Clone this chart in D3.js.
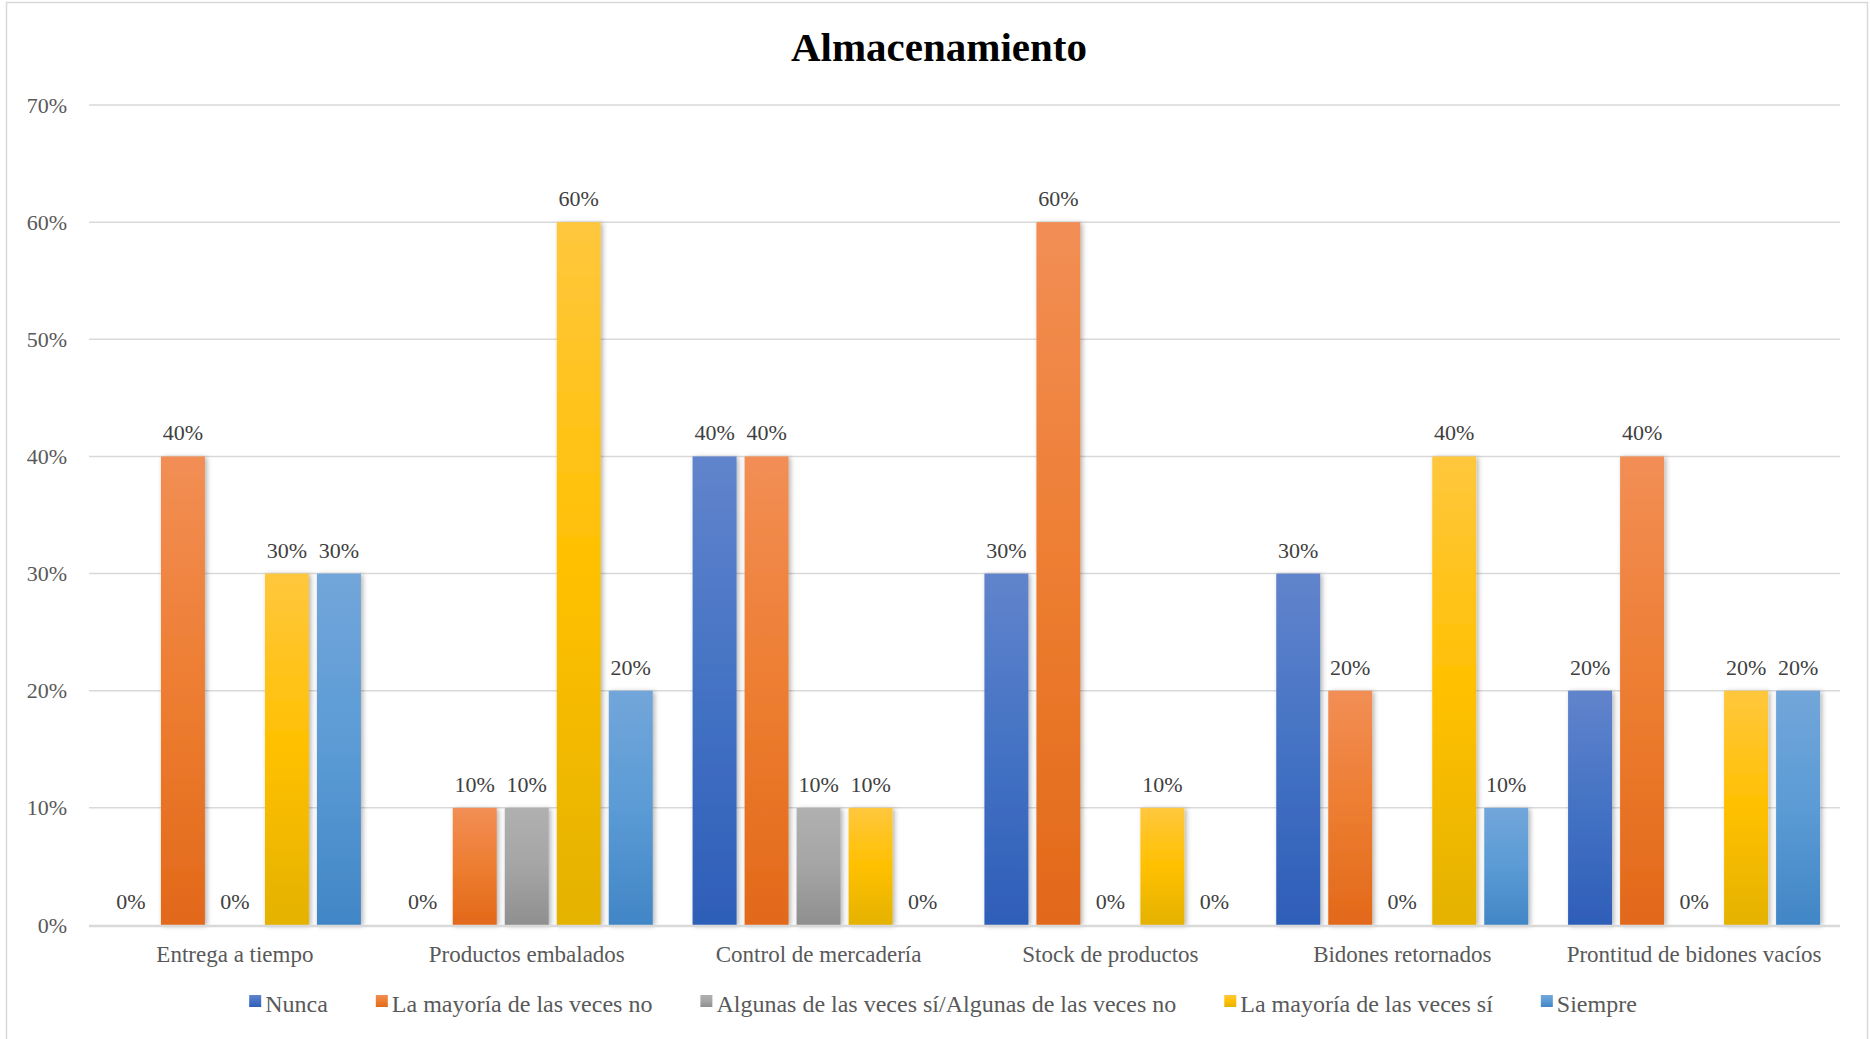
<!DOCTYPE html>
<html>
<head>
<meta charset="utf-8">
<script src="https://cdn.jsdelivr.net/npm/d3@7"></script>
<style>
  body { margin: 0; background: #fff; }
  svg text { font-family: "Liberation Serif", "Times New Roman", serif; }
</style>
</head>
<body>
<div id="chart"></div>
<script>
var categories = ["Entrega a tiempo", "Productos embalados", "Control de mercadería",
                  "Stock de productos", "Bidones retornados", "Prontitud de bidones vacíos"];
var seriesNames = ["Nunca", "La mayoría de las veces no",
                   "Algunas de las veces sí/Algunas de las veces no",
                   "La mayoría de las veces sí", "Siempre"];
var nunca      = [0, 0, 40, 30, 30, 20];
var mayoriaNo  = [40, 10, 40, 60, 20, 40];
var algunas    = [0, 10, 10, 0, 0, 0];
var mayoriaSi  = [30, 60, 10, 10, 40, 20];
var siempre    = [30, 20, 0, 0, 10, 20];
var yTicks = [0, 10, 20, 30, 40, 50, 60, 70];

var seriesValues = [nunca, mayoriaNo, algunas, mayoriaSi, siempre];
// gradient stops per series: top, middle, bottom
var seriesColors = [
  ["#6184cc", "#4472c4", "#2e5eb8"],
  ["#f28e55", "#ed7d31", "#e2691a"],
  ["#b0b0b0", "#a5a5a5", "#8f8f8f"],
  ["#ffc73d", "#ffc000", "#e4b200"],
  ["#72a6da", "#5b9bd5", "#4186c6"]
];
var serif = "Liberation Serif, Times New Roman, serif";

var w = 1870, h = 1039;
var plot = {left: 89, right: 1840, top: 105, bottom: 925};

var svg = d3.select("#chart").append("svg")
            .attr("width", w)
            .attr("height", h);

var defs = svg.append("defs");
seriesColors.forEach(function(c, i) {
  var g = defs.append("linearGradient")
              .attr("id", "grad" + i)
              .attr("x1", 0).attr("y1", 0).attr("x2", 0).attr("y2", 1);
  g.append("stop").attr("offset", "0%").attr("stop-color", c[0]);
  g.append("stop").attr("offset", "50%").attr("stop-color", c[1]);
  g.append("stop").attr("offset", "100%").attr("stop-color", c[2]);
});
var shadow = defs.append("filter").attr("id", "shadow")
                 .attr("x", "-20%").attr("y", "-5%").attr("width", "150%").attr("height", "115%");
shadow.append("feDropShadow")
      .attr("dx", 2).attr("dy", 1).attr("stdDeviation", 2.5)
      .attr("flood-color", "#000").attr("flood-opacity", 0.3);

// chart border
svg.append("rect")
   .attr("x", 6.5).attr("y", 2.5)
   .attr("width", 1861).attr("height", 1050)
   .attr("fill", "none")
   .attr("stroke", "#d9d9d9")
   .attr("stroke-width", 1.5);

// title
svg.append("text")
   .attr("x", 939)
   .attr("y", 61)
   .attr("text-anchor", "middle")
   .attr("font-family", serif)
   .attr("font-size", 41)
   .attr("font-weight", "bold")
   .attr("fill", "#000")
   .text("Almacenamiento");

//Scales
var x0 = d3.scaleBand()
           .domain(categories)
           .range([plot.left, plot.right]);
var x1 = d3.scaleBand()
           .domain(d3.range(seriesNames.length))
           .range([0, x0.bandwidth()])
           .paddingInner(0.154)
           .paddingOuter(0.383);
var yScale = d3.scaleLinear()
               .domain([0, 70])
               .range([plot.bottom, plot.top]);

//Gridlines
svg.append("g")
   .selectAll("line")
   .data(yTicks.filter(function(d) {return d > 0;}))
   .enter()
   .append("line")
   .attr("x1", plot.left).attr("x2", plot.right)
   .attr("y1", function(d) {return yScale(d);})
   .attr("y2", function(d) {return yScale(d);})
   .attr("stroke", "#d9d9d9")
   .attr("stroke-width", 1.5);

//Y axis labels
var yAxis = d3.axisLeft(yScale)
              .tickValues(yTicks)
              .tickFormat(function(d) {return d + "%";})
              .tickSize(0)
              .tickPadding(0);
var gy = svg.append("g")
            .attr("transform", "translate(67,0)")
            .call(yAxis);
gy.select(".domain").remove();
gy.selectAll("text")
  .attr("font-family", serif)
  .attr("font-size", 22)
  .attr("fill", "#595959");

//Build point records per series so category indexes survive filtering
var points = [];
seriesValues.forEach(function(vals, si) {
  vals.forEach(function(v, ci) {
    points.push({s: si, c: categories[ci], v: v});
  });
});

//Bars
svg.append("g")
   .selectAll("rect")
   .data(points.filter(function(d) {return d.v > 0;}))
   .enter()
   .append("rect")
   .attr("x", function(d) {return x0(d.c) + x1(d.s);})
   .attr("y", function(d) {return yScale(d.v);})
   .attr("width", x1.bandwidth())
   .attr("height", function(d) {return yScale(0) - yScale(d.v);})
   .attr("fill", function(d) {return "url(#grad" + d.s + ")";})
   .attr("filter", "url(#shadow)");

//X axis baseline
svg.append("line")
   .attr("x1", plot.left).attr("x2", plot.right)
   .attr("y1", plot.bottom + 1).attr("y2", plot.bottom + 1)
   .attr("stroke", "#d9d9d9")
   .attr("stroke-width", 2.5);

//Data labels
svg.append("g")
   .selectAll("text")
   .data(points)
   .enter()
   .append("text")
   .attr("x", function(d) {return x0(d.c) + x1(d.s) + x1.bandwidth() / 2;})
   .attr("y", function(d) {return yScale(d.v) - 16;})
   .attr("text-anchor", "middle")
   .attr("font-family", serif)
   .attr("font-size", 22)
   .attr("fill", "#404040")
   .text(function(d) {return d.v + "%";});

//X axis labels
var xAxis = d3.axisBottom(x0).tickSize(0).tickPadding(0);
var gx = svg.append("g")
            .attr("transform", "translate(0," + (plot.bottom + 37) + ")")
            .call(xAxis);
gx.select(".domain").remove();
gx.selectAll("text")
  .attr("dy", 0)
  .attr("font-family", serif)
  .attr("font-size", 23)
  .attr("fill", "#595959");

//Legend
var legend = svg.append("g");
var items = legend.selectAll("g")
                  .data(seriesNames)
                  .enter()
                  .append("g");
items.append("rect")
     .attr("width", 12).attr("height", 12)
     .attr("y", -10)
     .attr("fill", function(d, i) {return "url(#grad" + i + ")";});
items.append("text")
     .attr("x", 16)
     .attr("y", 0)
     .attr("dy", "0.3em")
     .attr("font-family", serif)
     .attr("font-size", 24)
     .attr("fill", "#595959")
     .text(function(d) {return d;});
var pos = 0, offsets = [];
items.each(function() {
  offsets.push(pos);
  pos += 16 + d3.select(this).select("text").node().getComputedTextLength() + 48;
});
var total = pos - 48;
var startX = 943 - total / 2;
items.attr("transform", function(d, i) {return "translate(" + (startX + offsets[i]) + ",1005)";});
</script>
</body>
</html>
